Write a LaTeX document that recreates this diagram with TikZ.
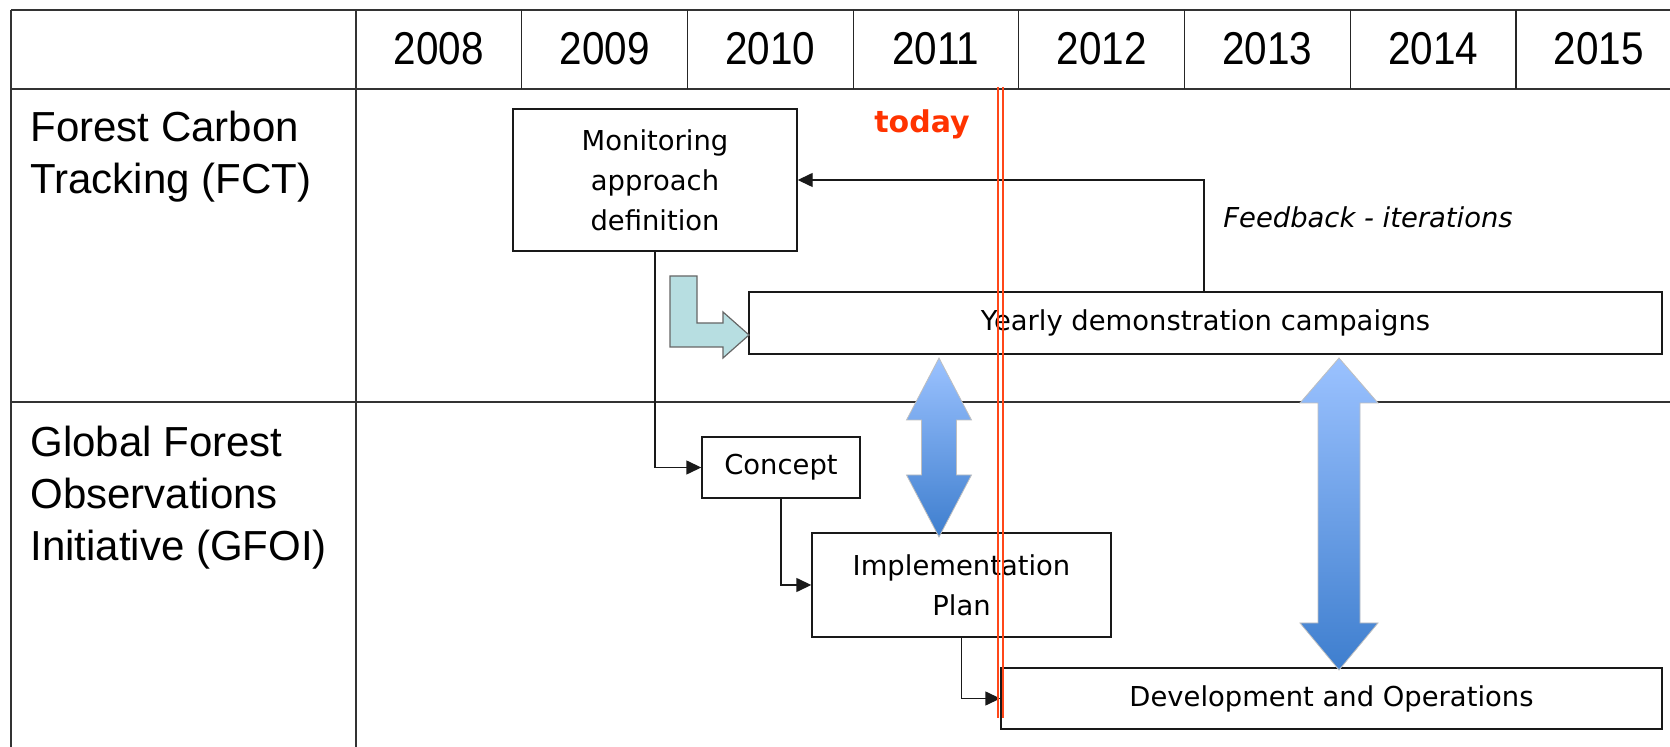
\documentclass[tikz,border=0pt]{standalone}
\usepackage{fontspec}
\usepackage{tikz}
\usetikzlibrary{arrows.meta}
\newfontfamily\tablefont{Liberation Sans}
\newfontfamily\boxfont{DejaVu Sans}
\definecolor{todayred}{RGB}{255, 51, 0}
\definecolor{tealfill}{RGB}{183, 222, 225}
\definecolor{arrtop}{RGB}{155, 194, 255}
\definecolor{arrbot}{RGB}{62, 126, 206}

\begin{document}
\begin{tikzpicture}[x=0.5pt, y=-0.5pt,
    box/.style={draw=black!90, line width=0.7pt, fill=white, inner sep=0pt, align=center,
                font=\boxfont\fontsize{13.7}{20}\selectfont},
    flow/.style={draw=black!90, line width=0.7pt, -{Triangle[length=7.5pt, width=7pt]}},
    tablerule/.style={draw=black!80, line width=1.1pt},
    yearrule/.style={draw=black!85, line width=0.6pt},
    lane/.style={font=\tablefont\fontsize{21}{26}\selectfont, align=left, anchor=north west, inner sep=0pt},
    bigarrow/.style={top color=arrtop, bottom color=arrbot, draw=black!25, line width=0.4pt},
    todayline/.style={draw=todayred!90, line width=0.6pt}]
            \useasboundingbox (0,0) rectangle (1670,747);

            % Table frame
            \draw[tablerule] (11,10) -- (1670,10);
            \draw[tablerule] (11,89) -- (1670,89);
            \draw[tablerule] (11,402) -- (1670,402);
            \draw[tablerule] (11,10) -- (11,747);
            \draw[tablerule] (356,10) -- (356,747);
            \foreach \i in {1,...,7}
                \draw[yearrule] (356+165.7*\i,10) -- (356+165.7*\i,89);

            % Year header
            \foreach \yr [count=\i from 0] in {2008,...,2015}
                \node[font=\tablefont\fontsize{23}{26}\selectfont, inner sep=0pt] (y\yr) at (438.85+165.7*\i,49) {\scalebox{0.88}[1]{\yr}};

            % Lanes
            \node[lane] (fct) at (30,111) {Forest Carbon\\Tracking (FCT)};
            \node[lane] (gfoi) at (30,426) {Global Forest\\Observations\\Initiative (GFOI)};

            % Activity boxes
            \node[box, minimum width=142pt, minimum height=71pt] (monitor) at (655,180) {Monitoring\\approach\\definition};
            \node[box, minimum width=456.5pt, minimum height=31pt] (yearly) at (1205.5,323) {Yearly demonstration campaigns};
            \node[box, minimum width=79pt, minimum height=30.5pt] (concept) at (781,467.5) {Concept};
            \node[box, minimum width=149.5pt, minimum height=52pt] (impl) at (961.5,585) {Implementation\\Plan};
            \node[box, minimum width=330.5pt, minimum height=30.5pt] (devops) at (1331.5,698.5) {Development and Operations};

            % Feedback loop
            \coordinate (fb) at (1204,0);
            \draw[flow] (fb |- yearly.north) |- (monitor.east);
            \node[font=\boxfont\itshape\fontsize{13.7}{20}\selectfont, anchor=base west, inner sep=0pt] (fbtext) at (1223,228) {Feedback - iterations};

            % GFOI chain
            \draw[flow] (monitor.south) |- (concept.west);
            \draw[flow] (concept.south) |- (impl.west);
            \draw[flow] (impl.south) |- (devops.west);

            % Bent arrow into the campaigns
            \filldraw[fill=tealfill, draw=black!60, line width=0.6pt] (670,276) -- (697,276) -- (697,323) -- (723,323) -- (723,312)
                -- (749,335) -- (723,358) -- (723,347) -- (670,347) -- cycle;

            % Double arrows between lanes
            \shadedraw[bigarrow] (939,358) -- (971.5,420) -- (956.5,420) -- (956.5,475) -- (971.5,475) -- (939,537)
                -- (906.5,475) -- (921.5,475) -- (921.5,420) -- (906.5,420) -- cycle;
            \shadedraw[bigarrow] (1339,358) -- (1378,403) -- (1360,403) -- (1360,623) -- (1378,623) -- (1339,670)
                -- (1300,623) -- (1318,623) -- (1318,403) -- (1300,403) -- cycle;

            % Today marker
            \draw[todayline] (998,87) -- (998,718);
            \draw[todayline] (1003,87) -- (1003,718);
            \node[font=\boxfont\bfseries\fontsize{15}{18}\selectfont, text=todayred] (today) at (922,124) {today};
        \end{tikzpicture}
\end{document}
